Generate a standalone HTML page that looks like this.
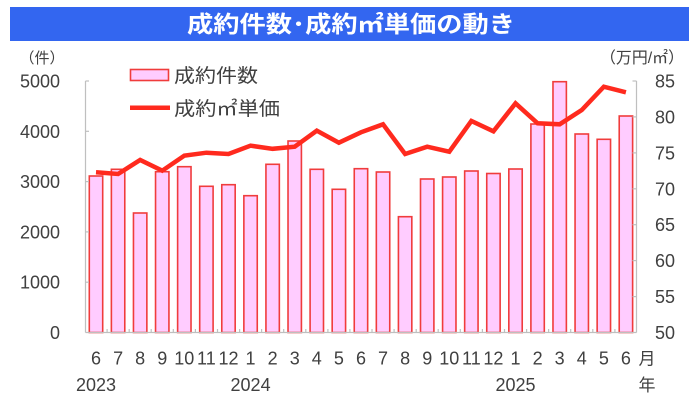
<!DOCTYPE html>
<html>
<head>
<meta charset="utf-8">
<style>
html,body{margin:0;padding:0;background:#fff;}
svg{display:block;}
text{font-family:"Liberation Sans","Noto Sans CJK JP",sans-serif;fill:#404040;}
.cjk{font-family:"Liberation Sans","Noto Sans CJK JP",sans-serif;}
</style>
</head>
<body>
<svg width="695" height="400" viewBox="0 0 695 400" xmlns="http://www.w3.org/2000/svg">
<rect x="0" y="0" width="695" height="400" fill="#fff"/>
<!-- Title bar -->
<rect x="10" y="7" width="679" height="34" fill="#3366f0"/>
<text x="351" y="32" text-anchor="middle" class="cjk" font-size="23" font-weight="bold" style="fill:#fff" textLength="328" lengthAdjust="spacingAndGlyphs">成約件数･成約㎡単価の動き</text>

<!-- axis unit labels -->
<text x="42" y="63" text-anchor="middle" class="cjk" font-size="15">（件）</text>
<text x="642" y="63" text-anchor="middle" class="cjk" font-size="16" textLength="84" lengthAdjust="spacingAndGlyphs">（万円/㎡）</text>

<!-- bars -->
<g fill="#ffccff" stroke="#f03c3c" stroke-width="1.6">
<rect x="89.3" y="176" width="13.4" height="156.5"/>
<rect x="111.38" y="169.3" width="13.4" height="163.2"/>
<rect x="133.46" y="213" width="13.4" height="119.5"/>
<rect x="155.54" y="171.7" width="13.4" height="160.8"/>
<rect x="177.62" y="166.7" width="13.4" height="165.8"/>
<rect x="199.7" y="186.3" width="13.4" height="146.2"/>
<rect x="221.78" y="184.7" width="13.4" height="147.8"/>
<rect x="243.86" y="195.7" width="13.4" height="136.8"/>
<rect x="265.94" y="164.3" width="13.4" height="168.2"/>
<rect x="288.02" y="141" width="13.4" height="191.5"/>
<rect x="310.1" y="169.3" width="13.4" height="163.2"/>
<rect x="332.18" y="189.3" width="13.4" height="143.2"/>
<rect x="354.26" y="168.7" width="13.4" height="163.8"/>
<rect x="376.34" y="172" width="13.4" height="160.5"/>
<rect x="398.42" y="216.7" width="13.4" height="115.8"/>
<rect x="420.5" y="179" width="13.4" height="153.5"/>
<rect x="442.58" y="177" width="13.4" height="155.5"/>
<rect x="464.66" y="171" width="13.4" height="161.5"/>
<rect x="486.74" y="173.5" width="13.4" height="159"/>
<rect x="508.82" y="169" width="13.4" height="163.5"/>
<rect x="530.9" y="124" width="13.4" height="208.5"/>
<rect x="552.98" y="81.7" width="13.4" height="250.8"/>
<rect x="575.06" y="134" width="13.4" height="198.5"/>
<rect x="597.14" y="139.3" width="13.4" height="193.2"/>
<rect x="619.22" y="116" width="13.4" height="216.5"/>
</g>

<!-- axes -->
<g stroke="#bfbfbf" stroke-width="1.2" fill="none">
<line x1="85.5" y1="81" x2="85.5" y2="332.5"/>
<line x1="636.5" y1="81" x2="636.5" y2="332.5"/>
<line x1="85.5" y1="332.5" x2="636.5" y2="332.5"/>
<!-- left ticks -->
<line x1="85.5" y1="81" x2="89" y2="81"/>
<line x1="85.5" y1="131.3" x2="89" y2="131.3"/>
<line x1="85.5" y1="181.6" x2="89" y2="181.6"/>
<line x1="85.5" y1="231.9" x2="89" y2="231.9"/>
<line x1="85.5" y1="282.2" x2="89" y2="282.2"/>
<!-- right ticks -->
<line x1="632.5" y1="81" x2="636.5" y2="81"/>
<line x1="632.5" y1="116.9" x2="636.5" y2="116.9"/>
<line x1="632.5" y1="152.9" x2="636.5" y2="152.9"/>
<line x1="632.5" y1="188.8" x2="636.5" y2="188.8"/>
<line x1="632.5" y1="224.7" x2="636.5" y2="224.7"/>
<line x1="632.5" y1="260.6" x2="636.5" y2="260.6"/>
<line x1="632.5" y1="296.6" x2="636.5" y2="296.6"/>
<!-- category ticks -->
<path d="M107.1 332.5v-3.5M129.2 332.5v-3.5M151.2 332.5v-3.5M173.3 332.5v-3.5M195.4 332.5v-3.5M217.5 332.5v-3.5M239.6 332.5v-3.5M261.6 332.5v-3.5M283.7 332.5v-3.5M305.8 332.5v-3.5M327.9 332.5v-3.5M349.9 332.5v-3.5M372 332.5v-3.5M394.1 332.5v-3.5M416.2 332.5v-3.5M438.2 332.5v-3.5M460.3 332.5v-3.5M482.4 332.5v-3.5M504.5 332.5v-3.5M526.6 332.5v-3.5M548.6 332.5v-3.5M570.7 332.5v-3.5M592.8 332.5v-3.5M614.9 332.5v-3.5"/>
</g>

<!-- line series -->
<polyline fill="none" stroke="#ff2a1e" stroke-width="4.5" stroke-linejoin="miter" stroke-linecap="butt"
points="96,172.3 118.08,174 140.16,160 162.24,170.7 184.32,155.7 206.4,152.7 228.48,154 250.56,145.7 272.64,148.8 294.72,146.7 316.8,130.7 338.88,142.7 360.96,132.3 383.04,124.3 405.12,154 427.2,146.7 449.28,151.7 471.36,121 493.44,131.3 515.52,103.3 537.6,123.3 559.68,124.3 581.76,110 603.84,86.7 625.92,92.3"/>

<!-- legend -->
<rect x="130.5" y="69.5" width="38" height="11" fill="#ffccff" stroke="#f03c3c" stroke-width="1.6"/>
<text x="174" y="82" class="cjk" font-size="19" textLength="84" lengthAdjust="spacingAndGlyphs">成約件数</text>
<line x1="130" y1="107.7" x2="170" y2="107.7" stroke="#ff2a1e" stroke-width="4.5"/>
<text x="174" y="115" class="cjk" font-size="19" textLength="106" lengthAdjust="spacingAndGlyphs">成約㎡単価</text>

<!-- left tick labels -->
<g font-size="18" text-anchor="end">
<text x="60" y="87.5">5000</text>
<text x="60" y="137.8">4000</text>
<text x="60" y="188.1">3000</text>
<text x="60" y="238.4">2000</text>
<text x="60" y="288.7">1000</text>
<text x="60" y="339">0</text>
</g>
<!-- right tick labels -->
<g font-size="18">
<text x="655" y="87.5">85</text>
<text x="655" y="123.4">80</text>
<text x="655" y="159.4">75</text>
<text x="655" y="195.3">70</text>
<text x="655" y="231.2">65</text>
<text x="655" y="267.1">60</text>
<text x="655" y="303.1">55</text>
<text x="655" y="339">50</text>
</g>

<!-- month labels -->
<g font-size="18" text-anchor="middle">
<text x="96" y="364.5">6</text>
<text x="118.08" y="364.5">7</text>
<text x="140.16" y="364.5">8</text>
<text x="162.24" y="364.5">9</text>
<text x="184.32" y="364.5">10</text>
<text x="206.4" y="364.5">11</text>
<text x="228.48" y="364.5">12</text>
<text x="250.56" y="364.5">1</text>
<text x="272.64" y="364.5">2</text>
<text x="294.72" y="364.5">3</text>
<text x="316.8" y="364.5">4</text>
<text x="338.88" y="364.5">5</text>
<text x="360.96" y="364.5">6</text>
<text x="383.04" y="364.5">7</text>
<text x="405.12" y="364.5">8</text>
<text x="427.2" y="364.5">9</text>
<text x="449.28" y="364.5">10</text>
<text x="471.36" y="364.5">11</text>
<text x="493.44" y="364.5">12</text>
<text x="515.52" y="364.5">1</text>
<text x="537.6" y="364.5">2</text>
<text x="559.68" y="364.5">3</text>
<text x="581.76" y="364.5">4</text>
<text x="603.84" y="364.5">5</text>
<text x="625.92" y="364.5">6</text>
<text x="647" y="364.5" class="cjk" font-size="17">月</text>
<text x="96" y="391">2023</text>
<text x="250.56" y="391">2024</text>
<text x="515.52" y="391">2025</text>
<text x="647" y="391" class="cjk" font-size="17">年</text>
</g>
</svg>
</body>
</html>
